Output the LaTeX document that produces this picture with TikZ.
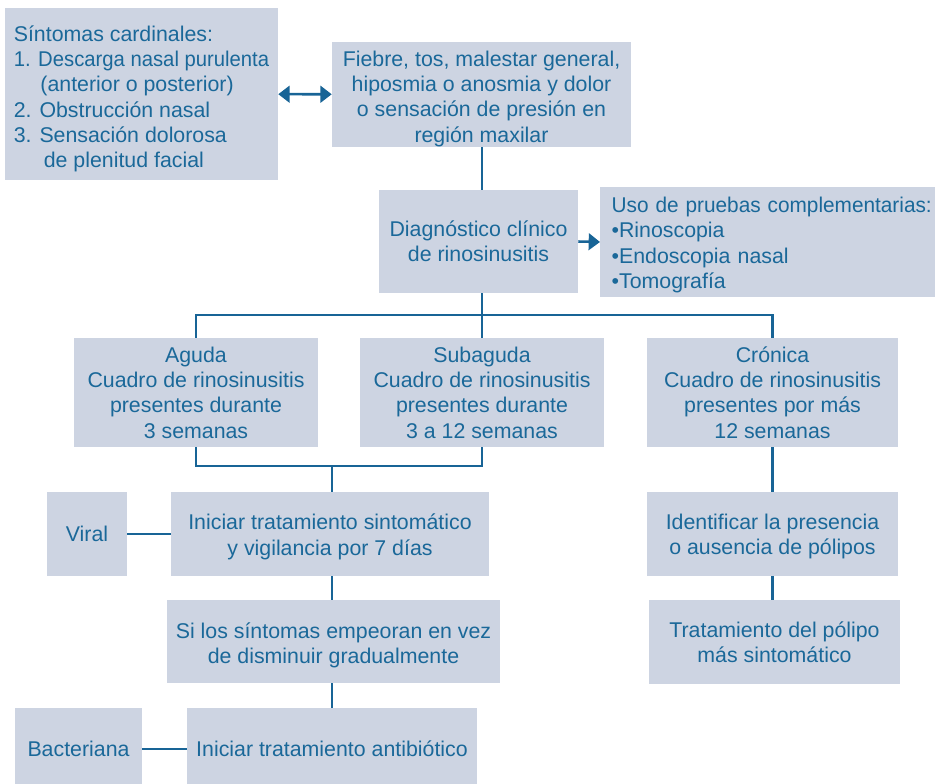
\documentclass[tikz,border=0pt]{standalone}
\usepackage{fontspec}
\setmainfont{Liberation Sans}
\usepackage{graphicx}
\usepackage{tikz}
\usetikzlibrary{positioning, arrows.meta, calc}
\definecolor{boxfill}{RGB}{205,212,226}
\definecolor{boxtext}{RGB}{26,104,153}
\definecolor{wire}{RGB}{24,100,150}
% baja un poco la primera linea del texto
\newcommand{\topgap}[1]{\rule{0pt}{#1}}

\begin{document}
\begin{tikzpicture}[x=0.75pt, y=-0.75pt,
    blk/.style={fill=boxfill, text=boxtext, align=center, inner sep=0pt,
      font=\fontsize{16}{19}\selectfont},
    wire/.style={draw=wire, line width=1.9pt},
    tip/.style={wire, -{Triangle[length=8.5pt, width=12.5pt]}},
    twotip/.style={wire, {Triangle[length=8.5pt, width=12.5pt]}-{Triangle[length=8.5pt, width=12.5pt]}}]
  \clip (0,0) rectangle (935,784);

  % fila de arriba
  \node[blk, align=left, minimum width=204.75pt, minimum height=129pt] (card) at (141.5,94)
    {\topgap{19pt}Síntomas cardinales:\\\scalebox{0.95}[1]{1. Descarga nasal purulenta}\\\hspace*{20pt}(anterior o posterior)\\2. Obstrucción nasal\\3. Sensación dolorosa\\\hspace*{22.5pt}de plenitud facial};
  \node[blk, minimum width=224.25pt, minimum height=77.25pt] (fiebre) at (481.5,94.5)
    {\topgap{17.7pt}Fiebre, tos, malestar general,\\hiposmia o anosmia y dolor\\o sensación de presión en\\región maxilar};

  \node[blk, minimum width=149.25pt, minimum height=77.25pt] (diag) at (478.5,241.5)
    {Diagnóstico clínico\\de rinosinusitis};
  \node[blk, anchor=west, align=left, text width=260pt, inner xsep=8.5pt, minimum height=82.5pt] (uso) at (600,242)
    {\topgap{16.2pt}\scalebox{0.975}[1]{Uso de pruebas complementarias:}\\•Rinoscopia\\•Endoscopia nasal\\•Tomografía};

  % las tres formas
  \node[blk, minimum width=183pt, minimum height=81.75pt] (aguda) at (196,392.5)
    {Aguda\\Cuadro de rinosinusitis\\presentes durante\\3 semanas};
  \node[blk, minimum width=183pt, minimum height=81.75pt] (subaguda) at (482,392.5)
    {Subaguda\\Cuadro de rinosinusitis\\presentes durante\\3 a 12 semanas};
  \node[blk, minimum width=188.25pt, minimum height=81.75pt] (cronica) at (772.5,392.5)
    {Crónica\\Cuadro de rinosinusitis\\presentes por más\\12 semanas};

  % rama aguda / subaguda
  \node[blk, minimum width=238.5pt, minimum height=63pt] (sint) at (330,534)
    {\topgap{16pt}Iniciar tratamiento sintomático\\y vigilancia por 7 días};
  \node[blk, minimum width=60pt, minimum height=63pt] (viral) at (87,534) {Viral};
  \node[blk, minimum width=249.75pt, minimum height=62.25pt] (silos) at (333.5,641.5)
    {\topgap{17.5pt}Si los síntomas empeoran en vez\\de disminuir gradualmente};
  \node[blk, minimum width=217.5pt, minimum height=61.5pt] (antib) at (332,749)
    {Iniciar tratamiento antibiótico};
  \node[blk, minimum width=95.25pt, minimum height=61.5pt] (bact) at (78.5,749) {Bacteriana};

  % rama crónica
  \node[blk, minimum width=188.25pt, minimum height=63pt] (ident) at (772.5,534)
    {\topgap{15.5pt}Identificar la presencia\\o ausencia de pólipos};
  \node[blk, minimum width=188.25pt, minimum height=63pt] (trat) at (774.5,642)
    {Tratamiento del pólipo\\más sintomático};

  \coordinate (split) at (482,315);
  \coordinate (merge) at (332,466);

  \draw[twotip] (card) -- (fiebre);
  \draw[wire] (fiebre.south -| split) -- (diag.north -| split);
  \draw[tip] (diag.east) -- (uso.west);
  \draw[wire] (diag.south -| split) -- (split);
  \draw[wire] (aguda.north) |- (split) -| (cronica.north);
  \draw[wire] (split) -- (subaguda.north);
  \draw[wire] (aguda.south) |- (merge) -| (subaguda.south);
  \draw[wire] (merge) -- (merge |- sint.north);
  \draw[wire] (viral) -- (sint);
  \draw[wire] (merge |- sint.south) -- (merge |- silos.north);
  \draw[wire] (merge |- silos.south) -- (merge |- antib.north);
  \draw[wire] (bact) -- (antib);
  \draw[wire] (cronica.south) -- (ident.north);
  \draw[wire] (ident.south) -- (ident.south |- trat.north);
\end{tikzpicture}
\end{document}
